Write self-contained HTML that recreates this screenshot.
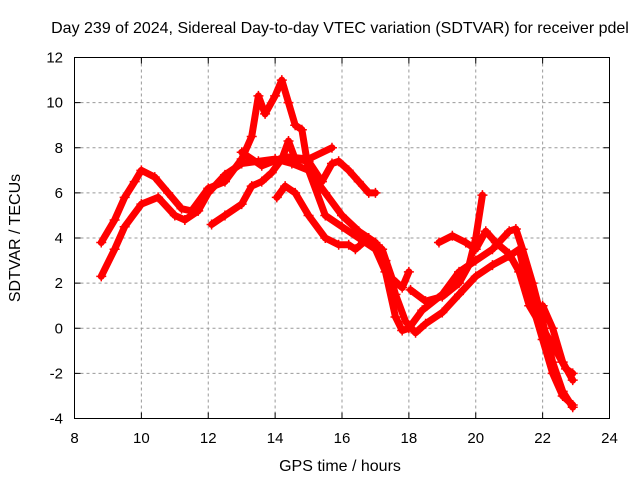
<!DOCTYPE html>
<html><head><meta charset="utf-8"><style>
body{margin:0;background:#fff}
svg{display:block;font-family:"Liberation Sans",sans-serif}
</style></head><body>
<svg id="chart" width="640" height="480">
<text x="340" y="33" font-size="16" text-anchor="middle">Day 239 of 2024, Sidereal Day-to-day VTEC variation (SDTVAR) for receiver pdel</text>
<text x="340" y="471" font-size="16" text-anchor="middle">GPS time / hours</text>
<text transform="translate(20,238) rotate(-90)" font-size="16" text-anchor="middle">SDTVAR / TECUs</text>
<g id="grid"></g>
<g id="series"></g>
<rect x="74.5" y="57.5" width="535" height="361" fill="none" stroke="#000" stroke-width="1"/>
<g id="ticks"></g>
</svg>
<script>
const xTicks=[8,10,12,14,16,18,20,22,24];
const yTicks=[-4,-2,0,2,4,6,8,10,12];
const traceA=[[8.8,2.3],[9.2,3.5],[9.5,4.5],[10,5.5],[10.5,5.8],[11,5.0],[11.3,4.8],[11.7,5.2],[12,6.0],[12.5,6.8],[13,7.3],[13.5,7.4],[14,7.5],[14.5,7.3],[15,7.0],[15.5,6.0],[16,5.0],[16.5,4.3],[17,3.8],[17.3,3.0],[17.6,1.5],[17.9,0.3],[18.2,-0.2],[18.5,0.2],[19,0.7],[19.5,1.5],[20,2.3],[20.5,2.8],[21,3.2],[21.3,3.5],[21.6,1.5],[22,-0.5],[22.3,-2.0],[22.6,-3.0],[22.9,-3.4]];
const traceB=[[8.8,3.8],[9.2,4.8],[9.5,5.8],[9.8,6.5],[10,7.0],[10.4,6.7],[10.8,6.0],[11.2,5.3],[11.5,5.2],[12,6.2],[12.5,6.5],[13,7.5],[13.3,8.5],[13.5,10.3],[13.7,9.5],[14.0,10.3],[14.2,11.0],[14.4,10.0],[14.6,9.0],[14.8,8.8],[15,7.0],[15.5,5.0],[16,4.5],[16.5,4.0],[17,3.5],[17.3,2.5],[17.6,0.5],[17.8,-0.1],[18.0,0.0],[18.4,0.8],[19,1.5],[19.5,2.5],[20,3.0],[20.5,3.5],[21,4.3],[21.2,4.4],[21.4,3.5],[21.7,2.0],[22,0.3],[22.3,-1.5],[22.6,-2.8],[22.9,-3.5]];
const traceC=[[12.1,4.6],[12.5,5.0],[13,5.5],[13.3,6.3],[13.6,6.5],[13.9,6.9],[14.2,7.5],[14.4,8.3],[14.6,7.5],[15,7.4],[15.4,6.5],[15.7,7.3],[15.9,7.4],[16.2,7.0],[16.5,6.5],[16.8,6.0],[17,6.0]];
const traceD=[[14.05,5.8],[14.3,6.3],[14.6,6.0],[15,5.0],[15.5,4.0],[15.9,3.7],[16.2,3.7],[16.4,3.5],[16.8,4.0],[17.2,3.5],[17.5,2.2],[17.8,1.8],[18.0,2.5]];
const traceE=[[18.05,1.7],[18.5,1.2],[19,1.4],[19.5,2.0],[19.8,2.8],[20,4.0],[20.2,5.9]];
const traceF=[[18.9,3.8],[19.3,4.1],[19.7,3.8],[20.0,3.5],[20.3,4.3],[20.6,3.8],[21,3.3],[21.3,2.5],[21.6,1.0],[22,0.0],[22.4,-1.0],[22.7,-1.8],[22.9,-2.0]];
const traceG=[[22.0,1.0],[22.3,0.0],[22.6,-1.5],[22.9,-2.3]];
const traceH=[[13.0,7.8],[13.6,7.2],[14.3,7.6],[15,7.5],[15.7,8.0]];
const traces=[traceA,traceB,traceC,traceD,traceE,traceF,traceG,traceH];
const NS="http://www.w3.org/2000/svg";
const X0=74.5,X1=609.5,Y0=418.5,Y1=57.5;
const xs=v=>X0+(v-8)/16*(X1-X0);
const ys=v=>Y0-(v+4)/16*(Y0-Y1);
const grid=document.getElementById('grid'),ticks=document.getElementById('ticks'),ser=document.getElementById('series');
function mk(tag,attrs,parent){const e=document.createElementNS(NS,tag);for(const k in attrs)e.setAttribute(k,attrs[k]);parent.appendChild(e);return e;}
xTicks.forEach(t=>{
  const x=xs(t);
  if(t>8&&t<24){const g=mk('line',{x1:x,x2:x,y1:Y1,y2:Y0,stroke:'#999','stroke-dasharray':'3,3'},grid);
  
  }
  const a=mk('line',{x1:x,x2:x,y1:Y0,y2:Y0-6,stroke:'#000'},ticks);
  const b=mk('line',{x1:x,x2:x,y1:Y1,y2:Y1+6,stroke:'#000'},ticks);
  const l=mk('text',{x:x,y:443,'font-size':15,'text-anchor':'middle'},ticks);l.textContent=t;
  
  
});
yTicks.forEach(t=>{
  const y=ys(t);
  if(t>-4&&t<12){const g=mk('line',{x1:X0,x2:X1,y1:y,y2:y,stroke:'#999','stroke-dasharray':'3,3'},grid);
  
  }
  const a=mk('line',{x1:X0,x2:X0+6,y1:y,y2:y,stroke:'#000'},ticks);
  const b=mk('line',{x1:X1,x2:X1-6,y1:y,y2:y,stroke:'#000'},ticks);
  const l=mk('text',{x:63,y:y+5,'font-size':15,'text-anchor':'end'},ticks);l.textContent=t;
  
  
});
traces.forEach((tr,i)=>{
  const p=mk('polyline',{points:tr.map(d=>xs(d[0])+','+ys(d[1])).join(' '),fill:'none',stroke:'#f00','stroke-width':7,'stroke-linejoin':'round','stroke-linecap':'round'},ser);
  
  
  tr.forEach(d=>{
    const x=xs(d[0]),y=ys(d[1]);
    const m=mk('path',{d:`M${x-5},${y}H${x+5}M${x},${y-5}V${y+5}`,stroke:'#f00','stroke-width':1.5},ser);
    
    
  });
});
</script>
</body></html>
